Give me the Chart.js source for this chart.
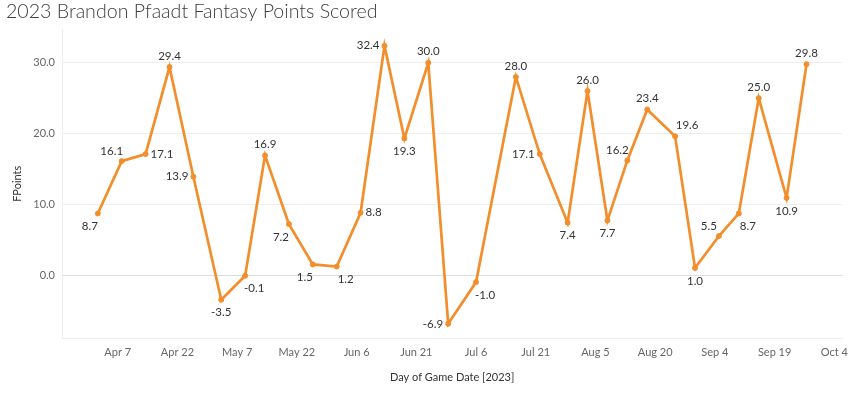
<!DOCTYPE html>
<html>
<head>
<meta charset="utf-8">
<script src="https://cdn.jsdelivr.net/npm/chart.js@4"></script>
<style>
  body { margin: 0; background: #fff; }
</style>
</head>
<body>
<canvas id="pfaadtChart" width="856" height="393"></canvas>
<script>
// game dates and fantasy points, 2023 season
const gameDates = [
    '2023-04-02', '2023-04-08', '2023-04-14', '2023-04-20', '2023-04-26',
    '2023-05-03', '2023-05-09', '2023-05-14', '2023-05-20', '2023-05-26',
    '2023-06-01', '2023-06-07', '2023-06-13', '2023-06-18', '2023-06-24',
    '2023-06-29', '2023-07-06', '2023-07-16', '2023-07-22', '2023-07-29',
    '2023-08-03', '2023-08-08', '2023-08-13', '2023-08-18', '2023-08-25',
    '2023-08-30', '2023-09-05', '2023-09-10', '2023-09-15', '2023-09-22',
    '2023-09-27'
];
const fantasyPoints = [
    8.7, 16.1, 17.1, 29.4, 13.9,
    -3.5, -0.1, 16.9, 7.2, 1.5,
    1.2, 8.8, 32.4, 19.3, 30.0,
    -6.9, -1.0, 28.0, 17.1, 7.4,
    26.0, 7.7, 16.2, 23.4, 19.6,
    1.0, 5.5, 8.7, 25.0, 10.9,
    29.8
];
const tickDates = [
    '2023-04-07', '2023-04-22', '2023-05-07', '2023-05-22', '2023-06-06',
    '2023-06-21', '2023-07-06', '2023-07-21', '2023-08-05', '2023-08-20',
    '2023-09-04', '2023-09-19', '2023-10-04'
];
const tickLabels = [
    'Apr 7', 'Apr 22', 'May 7', 'May 22', 'Jun 6',
    'Jun 21', 'Jul 6', 'Jul 21', 'Aug 5', 'Aug 20',
    'Sep 4', 'Sep 19', 'Oct 4'
];
const yTicks = [0, 10, 20, 30];

// where each value label sits next to its point (a=above, b=below, l=left, r=right)
const labelPos = [
    'bl', 'al', 'r', 'a', 'l',
    'b', 'br', 'a', 'bl', 'bl',
    'br', 'r', 'l', 'b', 'a',
    'l', 'br', 'a', 'l', 'b',
    'a', 'b', 'al', 'a', 'ar',
    'b', 'al', 'br', 'a', 'b',
    'a'
];

const FONT = 'Lato, "Open Sans", sans-serif';
const ORANGE = '#f28e2b';

// day of year, so the x axis can be a plain linear scale
function toDay(iso) {
    const p = iso.split('-').map(Number);
    return (Date.UTC(p[0], p[1] - 1, p[2]) - Date.UTC(p[0], 0, 1)) / 86400000 + 1;
}

const points = gameDates.map((d, i) => ({ x: toDay(d), y: fantasyPoints[i] }));
const tickDays = tickDates.map(toDay);

const valueLabels = {
    id: 'valueLabels',
    afterDatasetsDraw(chart) {
        const ctx = chart.ctx;
        const meta = chart.getDatasetMeta(0);
        ctx.save();
        ctx.font = '11.5px ' + FONT;
        ctx.fillStyle = '#333';
        ctx.textBaseline = 'middle';
        ctx.textAlign = 'center';
        meta.data.forEach((pt, i) => {
            const txt = fantasyPoints[i].toFixed(1);
            const w = ctx.measureText(txt).width;
            let dx = 0, dy = 0;
            switch (labelPos[i]) {
                case 'a': dy = -11; break;
                case 'b': dy = 13; break;
                case 'l': dx = -(w / 2 + 5); break;
                case 'r': dx = w / 2 + 5; break;
                case 'al': dx = -10; dy = -10; break;
                case 'ar': dx = 12; dy = -11; break;
                case 'bl': dx = -8; dy = 13; break;
                case 'br': dx = 9; dy = 13; break;
            }
            ctx.fillText(txt, pt.x + dx, pt.y + dy);
        });
        ctx.restore();
    }
};

const ctx = document.getElementById('pfaadtChart').getContext('2d');
new Chart(ctx, {
    type: 'line',
    data: {
        datasets: [{
            label: 'FPoints',
            data: points,
            borderColor: ORANGE,
            backgroundColor: ORANGE,
            borderWidth: 2.7,
            pointRadius: 2.5,
            pointBorderWidth: 1,
            pointHoverRadius: 2.5,
            tension: 0,
            fill: false,
        }],
    },
    options: {
        responsive: false,
        animation: false,
        layout: { padding: { left: 6, right: 8, top: 0, bottom: 0 } },
        plugins: {
            legend: { display: false },
            tooltip: { enabled: false },
            title: {
                display: true,
                text: '2023 Brandon Pfaadt Fantasy Points Scored',
                align: 'start',
                color: '#3c3c3c',
                font: { family: FONT, size: 19.6, weight: 300 },
                padding: { top: 0, bottom: 6 },
            },
        },
        scales: {
            x: {
                type: 'linear',
                min: toDay('2023-03-24'),
                max: toDay('2023-10-06'),
                afterBuildTicks: (axis) => {
                    axis.ticks = tickDays.map(v => ({ value: v }));
                },
                afterFit: (axis) => { axis.height = 55; },
                ticks: {
                    autoSkip: false,
                    maxRotation: 0,
                    padding: 8,
                    color: '#666',
                    font: { family: FONT, size: 11 },
                    callback: (value) => tickLabels[tickDays.indexOf(value)],
                },
                grid: { display: false, drawTicks: false },
                border: { display: true, color: '#eeeeee', width: 1 },
                title: {
                    display: true,
                    text: 'Day of Game Date [2023]',
                    color: '#333',
                    font: { family: FONT, size: 11 },
                    padding: { top: 4, bottom: 9 },
                },
            },
            y: {
                min: -8.9,
                max: 34.7,
                afterBuildTicks: (axis) => {
                    axis.ticks = yTicks.map(v => ({ value: v }));
                },
                afterFit: (axis) => { axis.width = 56; },
                ticks: {
                    padding: 7,
                    color: '#666',
                    font: { family: FONT, size: 11 },
                    callback: (value) => value.toFixed(1),
                },
                grid: {
                    drawTicks: false,
                    color: (c) => (c.tick && c.tick.value === 0 ? '#dddddd' : '#eeeeee'),
                },
                border: { display: true, color: '#eeeeee', width: 1 },
                title: {
                    display: true,
                    text: 'FPoints',
                    color: '#333',
                    font: { family: FONT, size: 11 },
                    padding: { top: 5, bottom: 5 },
                },
            },
        },
    },
    plugins: [valueLabels],
});
</script>
</body>
</html>
